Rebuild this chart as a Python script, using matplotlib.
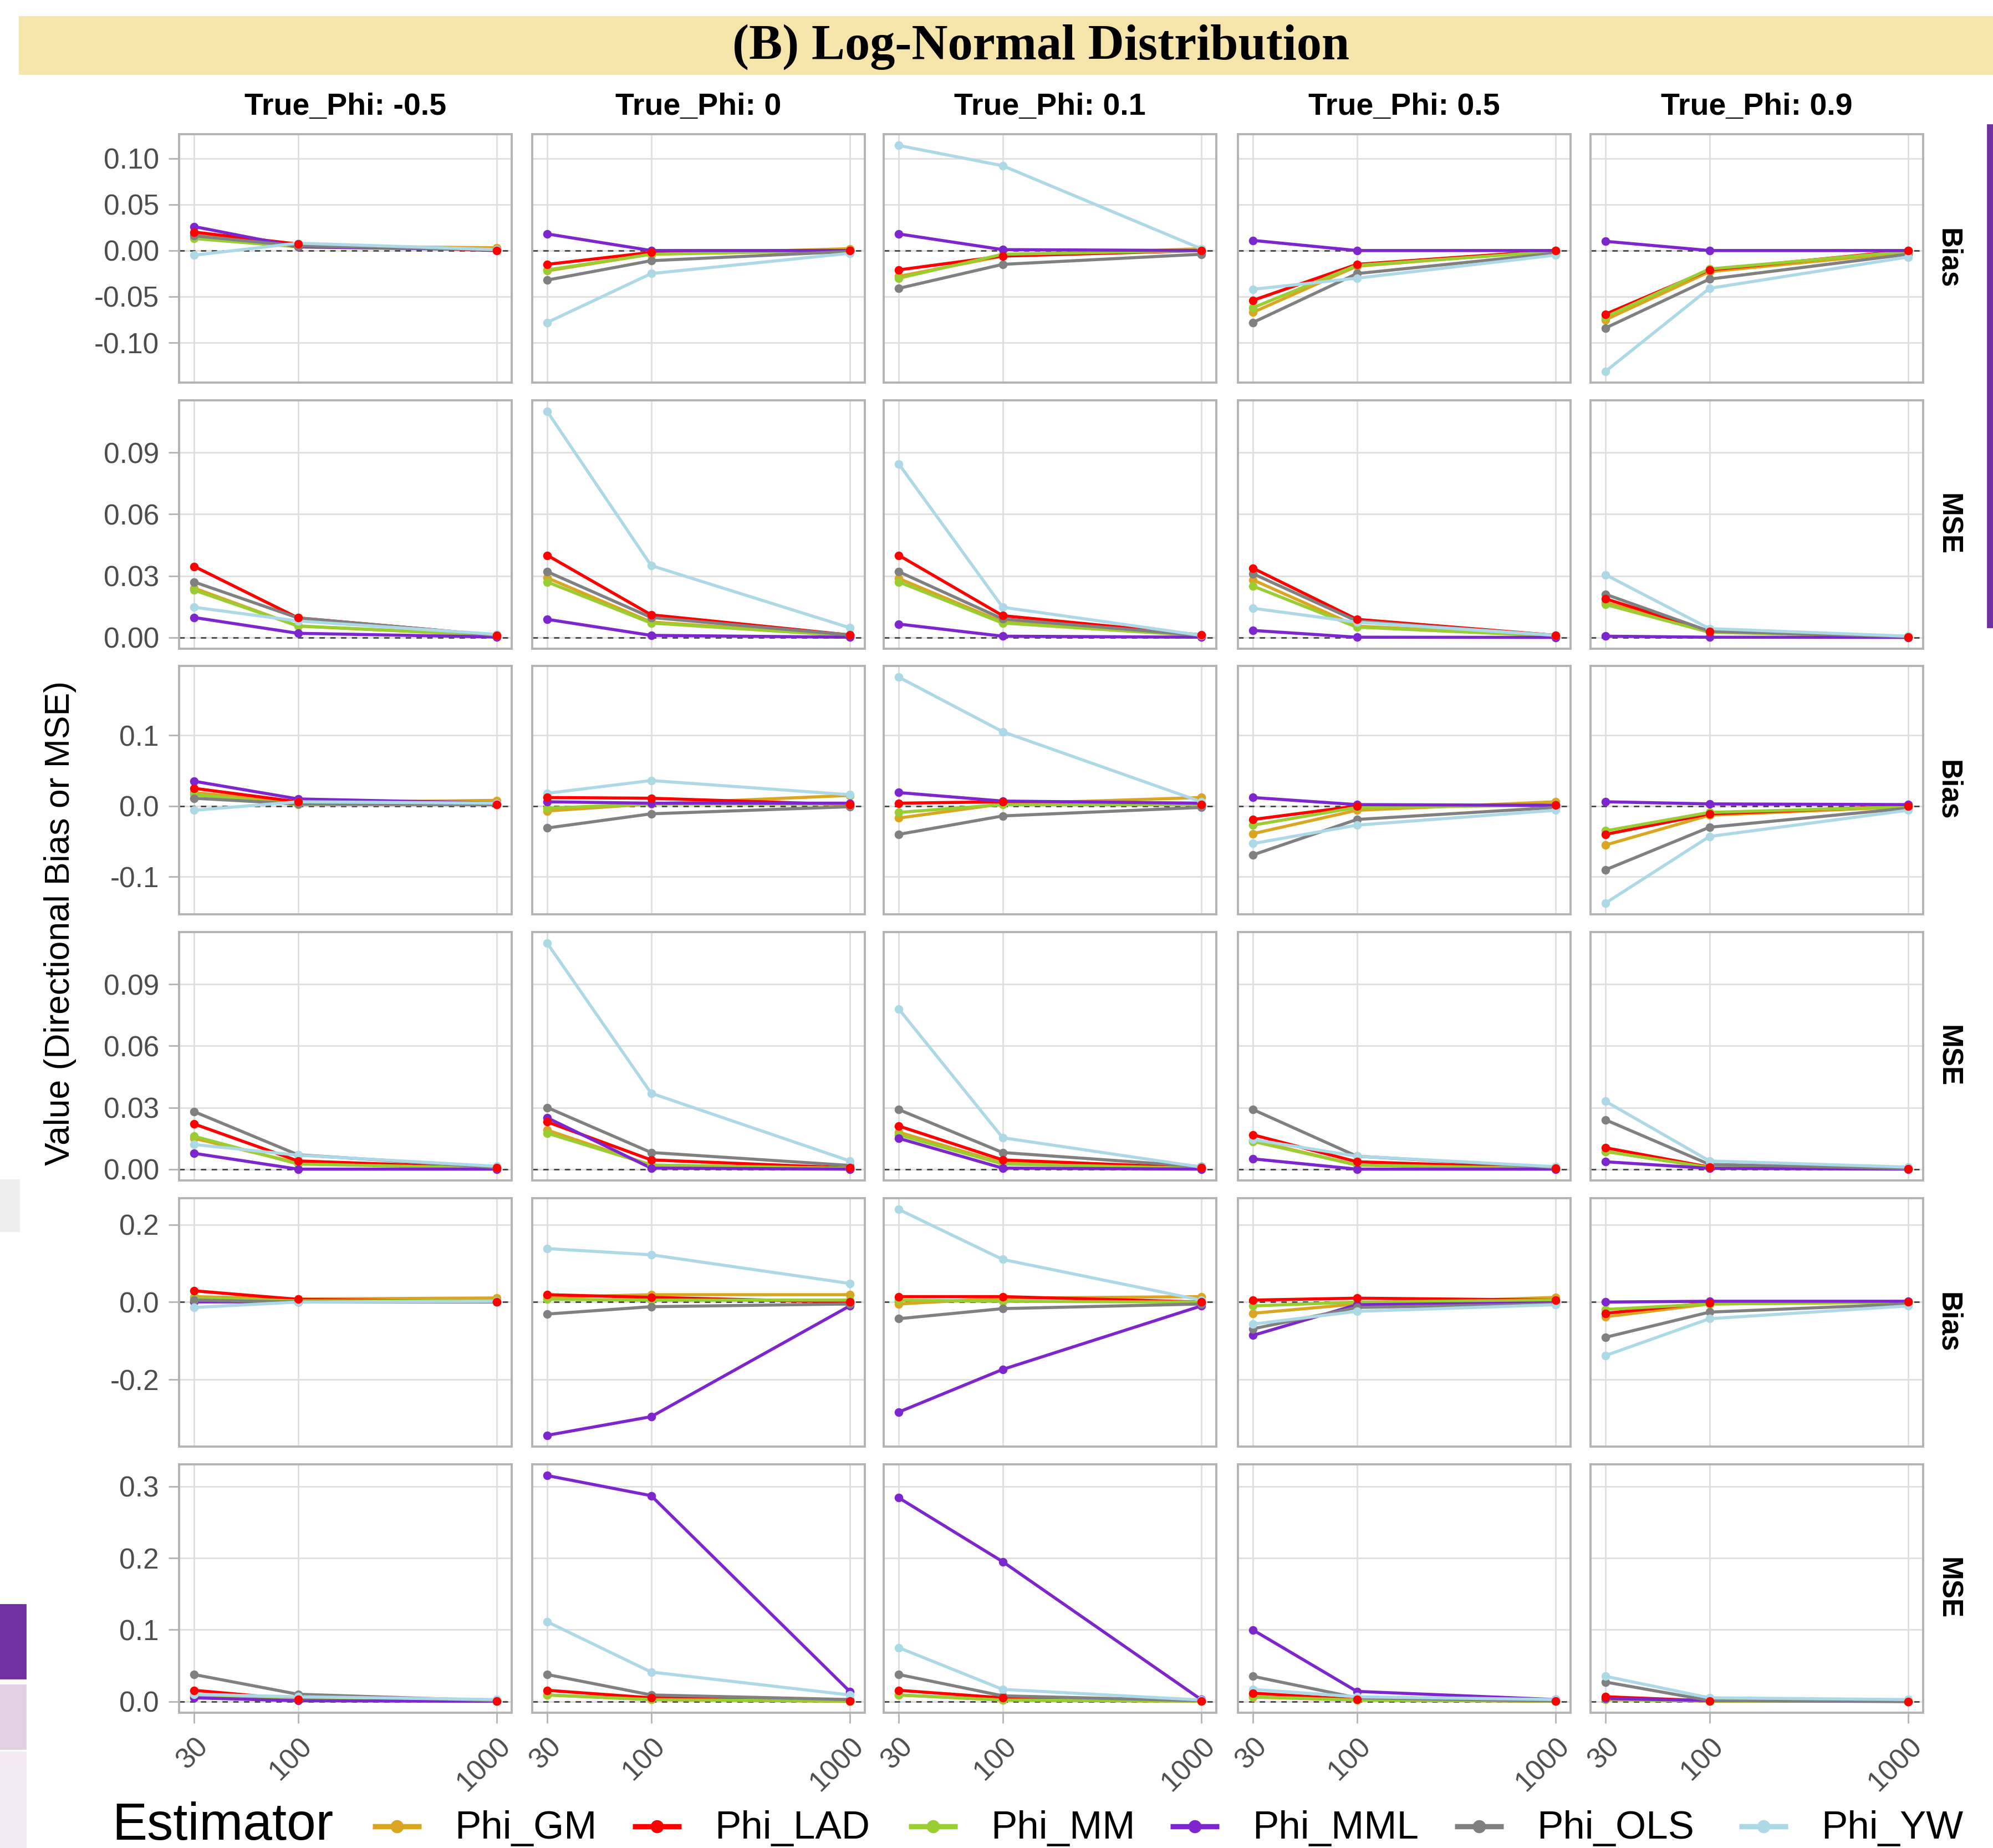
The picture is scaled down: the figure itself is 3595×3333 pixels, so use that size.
import numpy as np
import matplotlib.pyplot as plt
from matplotlib.lines import Line2D
from matplotlib.patches import Rectangle

plt.rcParams['font.family'] = ['Liberation Sans', 'DejaVu Sans']

n_sizes = [30, 100, 1000]
true_phi = ["-0.5", "0", "0.1", "0.5", "0.9"]
estimators = ["Phi_GM", "Phi_LAD", "Phi_MM", "Phi_MML", "Phi_OLS", "Phi_YW"]
colors = ["#DAA520", "#FF0000", "#9ACD32", "#7D26CD", "#808080", "#ADD8E6"]
row_labels = ["Bias", "MSE", "Bias", "MSE", "Bias", "MSE"]

# each entry: one list per True_Phi column, values at n = 30, 100, 1000
bias_a = {
    "Phi_GM":  [[0.017, 0.005, 0.003], [-0.022, -0.004, 0.002], [-0.028, -0.006, 0.002], [-0.067, -0.017, 0.0], [-0.075, -0.023, -0.002]],
    "Phi_LAD": [[0.020, 0.007, 0.0], [-0.015, -0.002, 0.0], [-0.021, -0.006, 0.0], [-0.054, -0.015, 0.0], [-0.069, -0.021, 0.0]],
    "Phi_MM":  [[0.013, 0.004, 0.001], [-0.021, -0.004, 0.0], [-0.030, -0.004, 0.0], [-0.062, -0.016, -0.001], [-0.072, -0.020, -0.001]],
    "Phi_MML": [[0.026, 0.004, 0.001], [0.018, 0.0, 0.0], [0.018, 0.001, 0.0], [0.011, 0.0, 0.0], [0.010, 0.0, 0.0]],
    "Phi_OLS": [[0.016, 0.005, 0.001], [-0.032, -0.011, -0.001], [-0.041, -0.015, -0.004], [-0.078, -0.025, -0.003], [-0.084, -0.031, -0.004]],
    "Phi_YW":  [[-0.005, 0.008, 0.001], [-0.078, -0.025, -0.003], [0.114, 0.092, 0.002], [-0.042, -0.030, -0.005], [-0.131, -0.041, -0.007]],
}
mse_a = {
    "Phi_GM":  [[0.024, 0.0055, 0.001], [0.029, 0.0075, 0.001], [0.0287, 0.0075, 0.001], [0.028, 0.0055, 0.0008], [0.017, 0.003, 0.0003]],
    "Phi_LAD": [[0.0346, 0.0095, 0.001], [0.040, 0.011, 0.0012], [0.040, 0.0106, 0.0012], [0.0337, 0.0088, 0.001], [0.0188, 0.003, 0.0003]],
    "Phi_MM":  [[0.023, 0.0056, 0.001], [0.027, 0.007, 0.0008], [0.027, 0.007, 0.0008], [0.025, 0.005, 0.0007], [0.016, 0.0025, 0.0003]],
    "Phi_MML": [[0.0097, 0.002, 0.0002], [0.0088, 0.001, 0.0001], [0.0065, 0.0006, 0.0001], [0.0034, 0.0001, 0.0], [0.0006, 0.0001, 0.0]],
    "Phi_OLS": [[0.027, 0.0095, 0.001], [0.032, 0.0097, 0.0012], [0.032, 0.009, 0.001], [0.031, 0.008, 0.001], [0.021, 0.003, 0.0004]],
    "Phi_YW":  [[0.0147, 0.008, 0.0015], [0.110, 0.035, 0.0047], [0.0845, 0.0147, 0.001], [0.0142, 0.0074, 0.001], [0.0305, 0.0043, 0.0006]],
}
bias_b = {
    "Phi_GM":  [[0.019, 0.005, 0.008], [-0.007, 0.003, 0.015], [-0.017, 0.003, 0.012], [-0.039, -0.006, 0.006], [-0.055, -0.013, -0.001]],
    "Phi_LAD": [[0.025, 0.006, 0.002], [0.012, 0.011, 0.002], [0.004, 0.006, 0.002], [-0.019, 0.0, 0.001], [-0.040, -0.011, 0.0]],
    "Phi_MM":  [[0.016, 0.002, 0.002], [-0.003, 0.003, 0.003], [-0.009, 0.002, 0.002], [-0.027, -0.002, 0.001], [-0.035, -0.009, -0.001]],
    "Phi_MML": [[0.035, 0.010, 0.004], [0.006, 0.004, 0.004], [0.019, 0.007, 0.004], [0.012, 0.002, 0.001], [0.006, 0.003, 0.002]],
    "Phi_OLS": [[0.011, 0.003, 0.002], [-0.031, -0.011, -0.001], [-0.040, -0.014, -0.002], [-0.069, -0.019, -0.002], [-0.090, -0.030, -0.003]],
    "Phi_YW":  [[-0.006, 0.006, 0.004], [0.018, 0.036, 0.016], [0.182, 0.105, 0.006], [-0.053, -0.027, -0.006], [-0.137, -0.043, -0.006]],
}
mse_b = {
    "Phi_GM":  [[0.015, 0.003, 0.0005], [0.019, 0.002, 0.0004], [0.018, 0.003, 0.0004], [0.014, 0.002, 0.0003], [0.0086, 0.0008, 0.0001]],
    "Phi_LAD": [[0.022, 0.004, 0.0006], [0.023, 0.0045, 0.0006], [0.021, 0.0045, 0.0006], [0.0167, 0.0036, 0.0005], [0.0104, 0.001, 0.0001]],
    "Phi_MM":  [[0.016, 0.0025, 0.0005], [0.0175, 0.002, 0.0004], [0.0167, 0.0025, 0.0004], [0.0135, 0.002, 0.0003], [0.0086, 0.0008, 0.0001]],
    "Phi_MML": [[0.0077, 0.0, 0.0], [0.025, 0.0005, 0.0], [0.015, 0.0005, 0.0], [0.005, 0.0, 0.0], [0.0036, 0.0004, 0.0]],
    "Phi_OLS": [[0.028, 0.007, 0.0008], [0.030, 0.0081, 0.0018], [0.029, 0.0081, 0.0012], [0.029, 0.0063, 0.0008], [0.024, 0.0023, 0.0003]],
    "Phi_YW":  [[0.012, 0.0068, 0.0014], [0.110, 0.037, 0.004], [0.078, 0.0153, 0.001], [0.0144, 0.0063, 0.0012], [0.033, 0.004, 0.001]],
}
bias_c = {
    "Phi_GM":  [[0.014, 0.008, 0.0105], [0.012, 0.019, 0.019], [-0.005, 0.010, 0.014], [-0.029, -0.005, 0.012], [-0.038, -0.005, 0.0]],
    "Phi_LAD": [[0.029, 0.007, 0.0], [0.019, 0.012, 0.0], [0.014, 0.014, 0.0], [0.005, 0.010, 0.005], [-0.029, -0.002, 0.0]],
    "Phi_MM":  [[0.010, 0.003, 0.003], [0.007, 0.005, 0.005], [0.005, 0.002, 0.0], [-0.010, 0.0, 0.005], [-0.019, -0.005, 0.0]],
    "Phi_MML": [[0.0, 0.0, 0.0], [-0.344, -0.296, -0.010], [-0.284, -0.174, -0.010], [-0.086, -0.007, -0.002], [0.0, 0.002, 0.002]],
    "Phi_OLS": [[0.005, 0.0, 0.0], [-0.031, -0.012, -0.005], [-0.043, -0.017, -0.005], [-0.069, -0.014, -0.005], [-0.091, -0.026, -0.005]],
    "Phi_YW":  [[-0.014, 0.0, 0.002], [0.138, 0.122, 0.048], [0.239, 0.110, 0.005], [-0.057, -0.024, -0.007], [-0.138, -0.043, -0.010]],
}
mse_c = {
    "Phi_GM":  [[0.008, 0.002, 0.0003], [0.009, 0.0026, 0.0003], [0.009, 0.002, 0.0003], [0.006, 0.002, 0.0003], [0.0026, 0.0005, 0.0001]],
    "Phi_LAD": [[0.0155, 0.0026, 0.0003], [0.0155, 0.005, 0.0004], [0.0155, 0.005, 0.0004], [0.0116, 0.0026, 0.0003], [0.0065, 0.0008, 0.0001]],
    "Phi_MM":  [[0.0078, 0.002, 0.0003], [0.009, 0.0026, 0.0003], [0.009, 0.002, 0.0003], [0.0065, 0.002, 0.0003], [0.0026, 0.0005, 0.0001]],
    "Phi_MML": [[0.005, 0.001, 0.0002], [0.315, 0.287, 0.014], [0.284, 0.195, 0.0026], [0.0996, 0.014, 0.0026], [0.004, 0.0013, 0.0001]],
    "Phi_OLS": [[0.0375, 0.010, 0.001], [0.0375, 0.009, 0.0026], [0.0375, 0.0078, 0.001], [0.035, 0.005, 0.0006], [0.027, 0.0013, 0.0002]],
    "Phi_YW":  [[0.010, 0.0065, 0.0026], [0.111, 0.041, 0.009], [0.075, 0.0168, 0.002], [0.0168, 0.0065, 0.0026], [0.035, 0.005, 0.0026]],
}
rows = [bias_a, mse_a, bias_b, mse_b, bias_c, mse_c]

y_ticks = [[-0.10, -0.05, 0.0, 0.05, 0.10], [0.0, 0.03, 0.06, 0.09],
           [-0.1, 0.0, 0.1], [0.0, 0.03, 0.06, 0.09],
           [-0.2, 0.0, 0.2], [0.0, 0.1, 0.2, 0.3]]
y_fmt = ["%.2f", "%.2f", "%.1f", "%.2f", "%.1f", "%.1f"]

W, H = 3595, 3333
DPI = 200
fig = plt.figure(figsize=(W / DPI, H / DPI), dpi=DPI)
fig.patch.set_facecolor("white")


def fx(x):
    return x / W


def fy(y):
    return 1 - y / H


# stray bits of the surrounding page
fig.patches.append(Rectangle((fx(35), fy(133)), fx(3595) - fx(35), fy(30) - fy(133),
                             transform=fig.transFigure, color="#F6E5AB", zorder=0))
fig.patches.append(Rectangle((fx(3585), fy(1131)), fx(10), fy(225) - fy(1131),
                             transform=fig.transFigure, color="#7030A0", zorder=0))
fig.patches.append(Rectangle((0, fy(2220)), fx(34), fy(2128) - fy(2220),
                             transform=fig.transFigure, color="#EEEEEE", zorder=0))
fig.patches.append(Rectangle((0, fy(3027)), fx(46), fy(2894) - fy(3027),
                             transform=fig.transFigure, color="#7030A0", zorder=0))
fig.patches.append(Rectangle((0, fy(3154)), fx(46), fy(3039) - fy(3154),
                             transform=fig.transFigure, color="#E0D0E0", zorder=0))
fig.patches.append(Rectangle((0, 0), fx(46), fy(3160),
                             transform=fig.transFigure, color="#F2EAF2", zorder=0))

fig.text(fx(1878), fy(85), "(B) Log-Normal Distribution", ha="center", va="center",
         fontsize=32.5, fontweight="bold", family=["Liberation Serif", "DejaVu Serif"])

col_left = [323, 960, 1594, 2233, 2869]
row_top = [242, 722, 1201, 1681, 2161, 2641]
pw, ph = 600, 448

lx = np.log10(n_sizes[0]), np.log10(n_sizes[-1])
ex = (lx[1] - lx[0]) * 0.05
xlim = (10 ** (lx[0] - ex), 10 ** (lx[1] + ex))

grid_c = "#DEDEDE"
border_c = "#B3B3B3"

for r, data in enumerate(rows):
    vals = np.array([data[e] for e in estimators])
    lo, hi = min(vals.min(), 0), max(vals.max(), 0)
    pad = (hi - lo) * 0.05
    ylim = (lo - pad, hi + pad)
    for c in range(5):
        ax = fig.add_axes([fx(col_left[c]), fy(row_top[r] + ph), pw / W, ph / H])
        ax.set_xscale("log")
        ax.set_xlim(*xlim)
        ax.set_ylim(*ylim)
        ax.set_xticks(n_sizes)
        ax.xaxis.set_minor_locator(plt.NullLocator())
        ax.set_yticks(y_ticks[r])
        ax.grid(True, color=grid_c, lw=1.0, zorder=0)
        ax.set_axisbelow(True)
        for s in ax.spines.values():
            s.set_color(border_c)
            s.set_linewidth(1.4)
        ax.tick_params(colors=border_c, length=7, width=1.0, pad=6,
                       labelcolor="#4D4D4D", labelsize=18.5)
        if c == 0:
            ax.set_yticklabels([y_fmt[r] % t for t in y_ticks[r]])
        else:
            ax.tick_params(axis="y", length=0, labelleft=False)
        if r == 5:
            ax.set_xticklabels([str(n) for n in n_sizes], rotation=45,
                               ha="right", va="top", rotation_mode="anchor")
        else:
            ax.tick_params(axis="x", length=0, labelbottom=False)

        ax.axhline(0, color="#444444", lw=1.0, ls=(0, (3.5, 3.5)), zorder=1)
        for i, e in enumerate(estimators):
            ax.plot(n_sizes, data[e][c], color=colors[i], lw=2.0, zorder=2 + i * 0.01,
                    solid_capstyle="butt")
        for i, e in enumerate(estimators):
            z = 4 if e == "Phi_LAD" else 3 + i * 0.01
            ax.plot(n_sizes, data[e][c], ls="none", marker="o", ms=5.6,
                    color=colors[i], mec="none", zorder=z)

        if r == 0:
            ax.text(0.5, (193 - 242) / -ph + 1, "True_Phi: " + true_phi[c],
                    transform=ax.transAxes, ha="center", va="center",
                    fontsize=20, fontweight="bold")
        if c == 4:
            fig.text(fx(3514), fy(row_top[r] + ph / 2), row_labels[r], rotation=270,
                     ha="center", va="center", fontsize=18.5, fontweight="bold")

fig.text(fx(108), fy(1665), "Value (Directional Bias or MSE)", rotation=90,
         ha="center", va="center", fontsize=22.5)

# legend along the bottom
fig.text(fx(202), fy(3318), "Estimator", ha="left", va="baseline", fontsize=34)
key_centre = [716, 1185, 1683, 2155, 2668, 3181]
for i, e in enumerate(estimators):
    kx = key_centre[i]
    fig.add_artist(Line2D([fx(kx - 44), fx(kx + 44)], [fy(3294), fy(3294)],
                          transform=fig.transFigure, color=colors[i], lw=3.4,
                          solid_capstyle="butt"))
    fig.add_artist(Line2D([fx(kx)], [fy(3294)], transform=fig.transFigure,
                          color=colors[i], marker="o", ms=8.5, mec="none"))
    fig.text(fx(kx + 104), fy(3316), e, ha="left", va="baseline", fontsize=25.5)

fig.savefig("out.png", dpi=DPI)
